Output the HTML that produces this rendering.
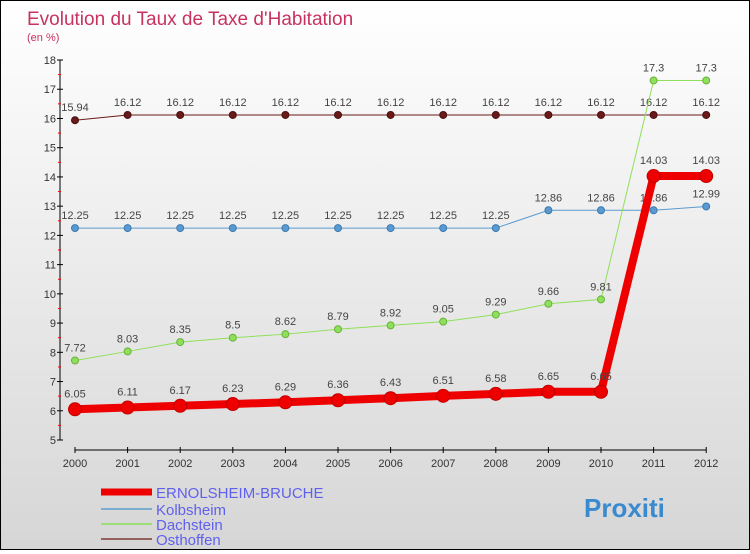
<!DOCTYPE html>
<html><head><meta charset="utf-8"><style>
body{margin:0}
#c{width:750px;height:550px;box-sizing:border-box;border:1px solid #000;background:linear-gradient(#fff,#d6d6d6);position:relative;font-family:"Liberation Sans",sans-serif}
</style></head><body>
<div id="c">
<svg id="s" width="748" height="548" xmlns="http://www.w3.org/2000/svg"></svg>
</div>
<script>
const years=[2000,2001,2002,2003,2004,2005,2006,2007,2008,2009,2010,2011,2012];
const ernols=[6.05,6.11,6.17,6.23,6.29,6.36,6.43,6.51,6.58,6.65,6.65,14.03,14.03];
const kolb=[12.25,12.25,12.25,12.25,12.25,12.25,12.25,12.25,12.25,12.86,12.86,12.86,12.99];
const dach=[7.72,8.03,8.35,8.5,8.62,8.79,8.92,9.05,9.29,9.66,9.81,17.3,17.3];
const osth=[15.94,16.12,16.12,16.12,16.12,16.12,16.12,16.12,16.12,16.12,16.12,16.12,16.12];
const yTicks=[5,6,7,8,9,10,11,12,13,14,15,16,17,18];
const NS="http://www.w3.org/2000/svg";
const s=document.getElementById('s');
const X=i=>74+i*52.6;
const Y=v=>439-(v-5)*29.23;
function el(t,a,txt){const e=document.createElementNS(NS,t);for(const k in a)e.setAttribute(k,a[k]);if(txt!==undefined)e.textContent=txt;s.appendChild(e);return e;}
let t=el('text',{x:26,y:24,'font-size':19,fill:'#c8325f'},"Evolution du Taux de Taxe d'Habitation");


t=el('text',{x:26,y:40,'font-size':11,fill:'#c8325f'},"(en %)");


let a=el('line',{x1:59,y1:Y(18),x2:59,y2:Y(5),stroke:'#000'});


yTicks.forEach(v=>{
 el('line',{x1:56,x2:62,y1:Y(v),y2:Y(v),stroke:'#000'});
 if(v<18)el('line',{x1:57,x2:60,y1:Y(v+0.5),y2:Y(v+0.5),stroke:'#f00'});
 const l=el('text',{x:55,y:Y(v)+4,'font-size':11,'text-anchor':'end',fill:'#333'},v);
 
 
});
a=el('line',{x1:X(0),y1:449,x2:X(12),y2:449,stroke:'#000'});


years.forEach((y,i)=>{
 el('line',{x1:X(i),x2:X(i),y1:446,y2:452,stroke:'#000'});
 const l=el('text',{x:X(i),y:466,'font-size':11,'text-anchor':'middle',fill:'#333'},y);
 
 
});
function series(d,color,w,r,name,dark){
 const p=el('polyline',{points:d.map((v,i)=>X(i)+','+Y(v)).join(' '),fill:'none',stroke:color,'stroke-width':w});
 
 
 d.forEach((v,i)=>{
  const c=el('circle',{cx:X(i),cy:Y(v),r:r,fill:color,stroke:dark,'stroke-width':1});
  
  
  const l=el('text',{x:X(i),y:Y(v)-9-(r>5?3:0),'font-size':11,'text-anchor':'middle',fill:'#444'},v);
  
  
 });
}
series(osth,'#6b1a1a',1,3.5,'osthoffen','#4a0e0e');
series(kolb,'#5a9ad0',1,3.5,'kolbsheim','#3a7ab0');
series(dach,'#8ee05a',1,3.5,'dachstein','#6ab03a');
series(ernols,'#ee0000',8,6.5,'ernolsheim-bruche','#c00000');
const leg=[['ERNOLSHEIM-BRUCHE','#ee0000',7,491],['Kolbsheim','#7aaed0',2,508],['Dachstein','#9ede78',2,523],['Osthoffen','#946060',2,538]];
leg.forEach(([n,c,w,y])=>{
 const g=el('line',{x1:100,x2:151,y1:y,y2:y,stroke:c,'stroke-width':w});
 
 
 const l=el('text',{x:155,y:y+6,'font-size':15,fill:'#6060ee'},n);
 
 
});
const lg=el('text',{x:583,y:516,'font-size':26,'font-weight':'bold',fill:'#3a8ad0'},'Proxiti');


</script>
</body></html>
